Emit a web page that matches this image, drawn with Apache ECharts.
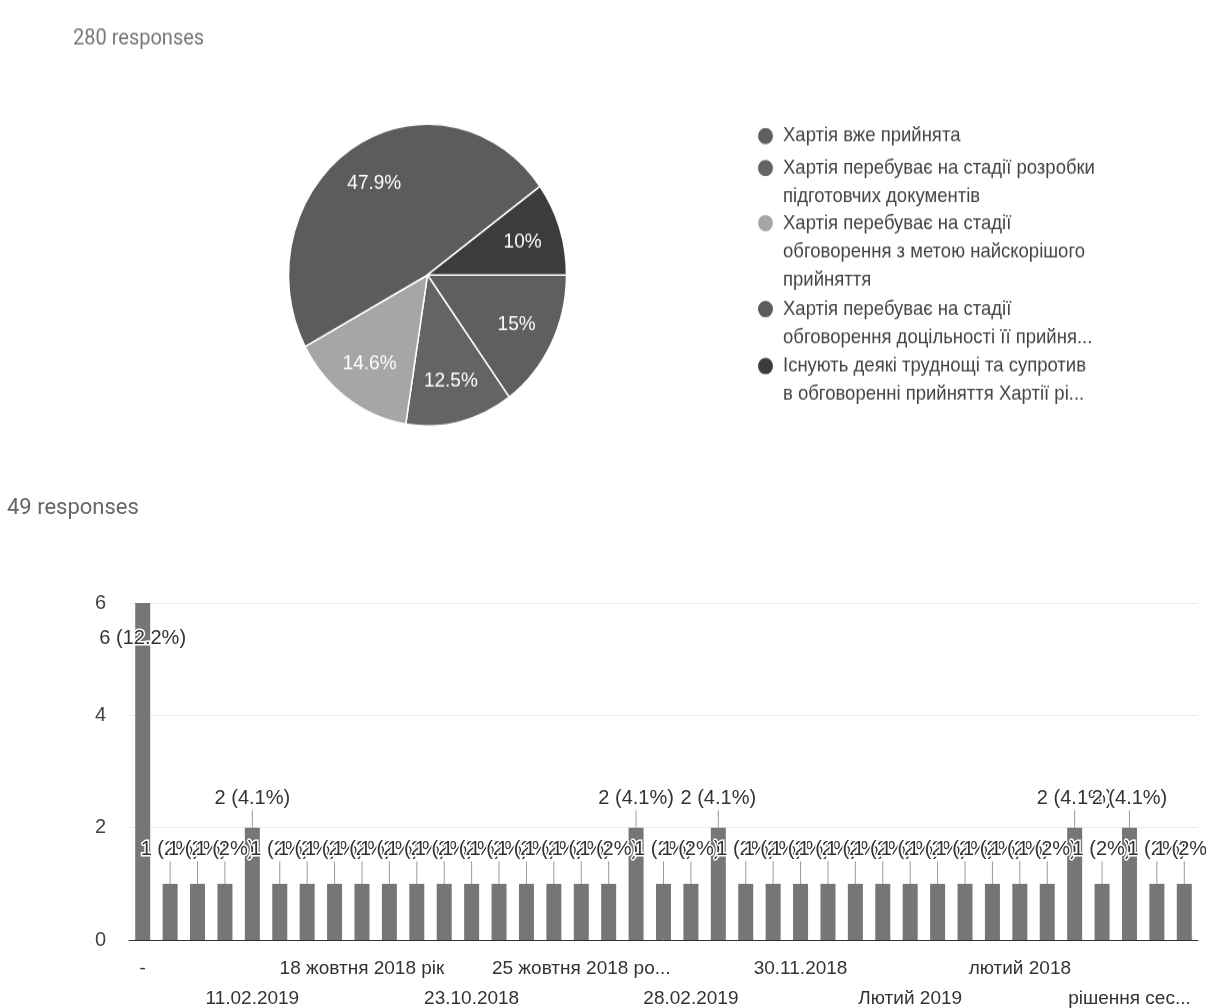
<!DOCTYPE html>
<html>
<head>
<meta charset="utf-8">
<script src="https://cdn.jsdelivr.net/npm/echarts@6/dist/echarts.min.js"></script>
<style>
html,body{margin:0;padding:0;background:#fff;}
#wrap{position:relative;width:1206px;height:1008px;overflow:hidden;}
#barChart{position:absolute;left:0;top:0;width:1206px;height:1008px;}
#pieChart{position:absolute;left:0;top:0;width:1206px;height:440px;transform:scaleY(1.086);transform-origin:0 0;}
</style>
</head>
<body>
<div id="wrap">
  <div id="barChart"></div>
  <div id="pieChart"></div>
</div>
<script>
// ---- Pie data (280 responses) ----
const pieNames = [
  'Хартія вже прийнята',
  'Хартія перебуває на стадії розробки\nпідготовчих документів',
  'Хартія перебуває на стадії\nобговорення з метою найскорішого\nприйняття',
  'Хартія перебуває на стадії\nобговорення доцільності її прийня...',
  'Існують деякі труднощі та супротив\nв обговоренні прийняття Хартії рі...'
];
const pieValues = [42, 35, 41, 134, 28];
const pieColors = ['#5f5f5f', '#646464', '#a6a6a6', '#5c5c5c', '#3c3c3c'];

// ---- Bar data (49 responses) ----
const barCategories = [
  '-', '', '', '', '11.02.2019', '', '', '',
  '18 жовтня 2018 рік', '', '', '', '23.10.2018', '', '', '',
  '25 жовтня 2018 ро...', '', '', '', '28.02.2019', '', '', '',
  '30.11.2018', '', '', '', 'Лютий 2019', '', '', '',
  'лютий 2018', '', '', '', 'рішення сес...', '', ''
];
const barValues = [
  6, 1, 1, 1, 2, 1, 1, 1, 1, 1,
  1, 1, 1, 1, 1, 1, 1, 1, 2, 1,
  1, 2, 1, 1, 1, 1, 1, 1, 1, 1,
  1, 1, 1, 1, 2, 1, 2, 1, 1
];
const yTicks = [0, 2, 4, 6];

const pieTotal = pieValues.reduce((a, b) => a + b, 0);
const barTotal = barValues.reduce((a, b) => a + b, 0);
const fmtPct = (v, t) => {
  const p = Math.round(v / t * 1000) / 10;
  return (p % 1 === 0 ? p.toFixed(0) : p.toFixed(1)) + '%';
};
const FONT = 'Arial, "Liberation Sans", sans-serif';

// ================= Pie chart (top) =================
const S = 1.086; // vertical stretch of the original screenshot
const LH = 26;
const firstLineCenters = [135, 167, 222, 308, 365].map(y => y / S);
const D = 17;
const legends = pieNames.map((name, i) => {
  const n = name.split('\n').length;
  const H = n * LH;
  const c = LH / 2;
  const r = D / 2;
  const icon = 'path://M' + r + ',0L' + r + ',0.01M0,' + c + 'a' + r + ',' + r + ' 0 1,0 ' + D + ',0a' + r + ',' + r + ' 0 1,0 -' + D + ',0M' + r + ',' + (H - 0.01) + 'L' + r + ',' + H;
  return {
    data: [name],
    orient: 'vertical',
    left: 756,
    top: firstLineCenters[i] - LH / 2,
    padding: 0,
    itemWidth: D,
    itemHeight: H,
    icon: icon,
    selectedMode: false,
    textStyle: {
      fontFamily: FONT,
      fontSize: 18.5,
      color: '#444',
      lineHeight: LH,
      padding: [0, 0, 0, 4]
    }
  };
});

const pieChart = echarts.init(document.getElementById('pieChart'));
pieChart.setOption({
  animation: false,
  title: {
    text: '280 responses', left: 73, top: 26, padding: 0,
    textStyle: { fontFamily: 'Roboto, sans-serif', fontWeight: 'normal', fontSize: 20, color: '#777' }
  },
  legend: legends,
  series: [
    {
      type: 'pie',
      center: [427.5, 275 / S],
      radius: [0, 139],
      startAngle: 0,
      clockwise: true,
      data: pieNames.map((n, i) => ({ name: n, value: pieValues[i], itemStyle: { color: pieColors[i] } })),
      itemStyle: { borderColor: '#ffffff', borderWidth: 1.5 },
      label: { show: false },
      labelLine: { show: false },
      emphasis: { disabled: true }
    },
    {
      type: 'pie',
      center: [427.5, 275 / S],
      radius: [55, 139],
      startAngle: 0,
      clockwise: true,
      silent: true,
      legendHoverLink: false,
      data: pieNames.map((n, i) => ({ name: n, value: pieValues[i] })),
      itemStyle: { color: 'rgba(0,0,0,0)', borderWidth: 0 },
      label: {
        show: true,
        position: 'inside',
        formatter: p => fmtPct(p.value, pieTotal),
        fontFamily: FONT,
        fontSize: 19,
        color: '#ffffff'
      },
      labelLine: { show: false },
      emphasis: { disabled: true }
    }
  ]
});

// ================= Bar chart (bottom) =================
const barChart = echarts.init(document.getElementById('barChart'));
barChart.setOption({
  backgroundColor: '#ffffff',
  animation: false,
  title: {
    text: '49 responses', left: 7, top: 497, padding: 0,
    textStyle: { fontFamily: 'Roboto, sans-serif', fontWeight: 'normal', fontSize: 22, color: '#666' }
  },
  grid: { left: 129, right: 8, top: 603, bottom: 68, containLabel: false, outerBoundsMode: 'none' },
  xAxis: {
    type: 'category',
    data: barCategories,
    axisLine: { show: true, lineStyle: { color: '#333', width: 1 } },
    axisTick: { show: false },
    axisLabel: {
      interval: 0,
      margin: 14,
      fontFamily: FONT,
      fontSize: 19,
      color: '#333',
      lineHeight: 30,
      formatter: (val, idx) => {
        if (idx % 4 !== 0) return '';
        return idx % 8 === 4 ? '\n' + val : val;
      }
    }
  },
  yAxis: {
    type: 'value',
    min: yTicks[0],
    max: yTicks[yTicks.length - 1],
    interval: 2,
    axisLine: { show: false },
    axisTick: { show: false },
    splitLine: { lineStyle: { color: '#ebebeb', width: 1 } },
    axisLabel: {
      margin: 23,
      fontFamily: FONT,
      fontSize: 20,
      color: '#444'
    }
  },
  series: [
    {
      type: 'bar',
      data: barValues.map((v, i) => i === 0 ? {
        value: v,
        label: { position: 'insideTop', distance: 25 }
      } : v),
      barWidth: 15,
      itemStyle: { color: '#767676' },
      label: {
        show: true,
        position: 'top',
        distance: 5,
        formatter: p => p.value + ' (' + fmtPct(p.value, barTotal) + ')',
        fontFamily: FONT,
        fontSize: 20,
        color: '#333',
        textBorderColor: '#ffffff',
        textBorderWidth: 3
      },
      labelLine: { show: true, lineStyle: { color: '#999', width: 1 } },
      labelLayout: p => {
        const v = barValues[p.dataIndex];
        if (p.dataIndex === 0) return {};
        return { dy: v >= 2 ? -14 : -19 };
      },
      emphasis: { disabled: true }
    }
  ]
});
</script>
</body>
</html>
